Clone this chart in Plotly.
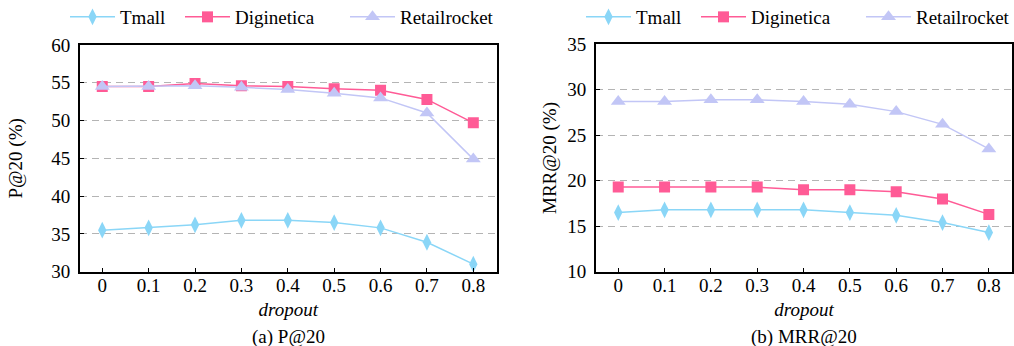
import plotly.graph_objects as go

dropout = [0, 0.1, 0.2, 0.3, 0.4, 0.5, 0.6, 0.7, 0.8]
tick_labels = ["0", "0.1", "0.2", "0.3", "0.4", "0.5", "0.6", "0.7", "0.8"]

p20_tmall = [35.5, 35.8, 36.2, 36.8, 36.8, 36.5, 35.8, 33.9, 31.0]
p20_diginetica = [54.5, 54.5, 54.9, 54.6, 54.5, 54.2, 54.0, 52.8, 49.7]
p20_retailrocket = [54.5, 54.5, 54.6, 54.4, 54.1, 53.6, 53.0, 51.0, 44.9]

mrr_tmall = [16.5, 16.8, 16.8, 16.8, 16.8, 16.5, 16.2, 15.4, 14.3]
mrr_diginetica = [19.3, 19.3, 19.3, 19.3, 19.0, 19.0, 18.8, 18.0, 16.3]
mrr_retailrocket = [28.7, 28.7, 28.9, 28.9, 28.7, 28.4, 27.6, 26.2, 23.5]

series_names = ["Tmall", "Diginetica", "Retailrocket"]
colors = ["#8ad6f7", "#ff5b96", "#c2c6f6"]
symbols = ["diamond-tall", "square", "triangle-up"]
sizes = [12, 11, 13]

FONT = "Liberation Serif"
FS = 19

fig = go.Figure()

# one legend per entry so each entry sits where the reference places it
legend_x_px = [[65, 180, 345], [581, 696, 861]]

panels = [
    ([p20_tmall, p20_diginetica, p20_retailrocket], "x", "y"),
    ([mrr_tmall, mrr_diginetica, mrr_retailrocket], "x2", "y2"),
]
legend_layouts = {}
k = 0
for pi, (data, xa, ya) in enumerate(panels):
    for si, (name, vals, col, sym, sz) in enumerate(zip(series_names, data, colors, symbols, sizes)):
        k += 1
        lgname = "legend" if k == 1 else f"legend{k}"
        fig.add_trace(go.Scatter(
            x=dropout, y=vals, name=name, mode="lines+markers",
            line=dict(color=col, width=1.5),
            marker=dict(symbol=sym, size=sz, color=col),
            xaxis=xa, yaxis=ya, legend=lgname, showlegend=True,
        ))
        legend_layouts[lgname] = dict(
            orientation="h", x=legend_x_px[pi][si]/1014, y=1-17/346,
            xanchor="left", yanchor="middle",
            font=dict(family=FONT, size=FS, color="black"),
            bgcolor="rgba(0,0,0,0)", itemwidth=45, tracegroupgap=0, visible=True,
        )

axis_common = dict(
    showline=True, mirror=True, linecolor="black", linewidth=2,
    ticks="inside", tickcolor="black", tickwidth=1,
    tickfont=dict(family=FONT, size=FS, color="black"),
    zeroline=False, automargin=False,
)
xcommon = dict(axis_common, range=[-0.048, 0.85], tickvals=dropout, ticktext=tick_labels,
               ticklen=4, showgrid=False, ticklabelstandoff=-5,
               title=dict(text="<i>dropout</i>", font=dict(family=FONT, size=FS, color="black"), standoff=8))
ycommon = dict(axis_common, ticklen=4, showgrid=True, gridcolor="#b4b4b4", gridwidth=1.3,
               griddash="7px,5px", ticklabelstandoff=4)

fig.update_layout(
    width=1014, height=346,
    margin=dict(l=0, r=0, t=0, b=0, autoexpand=False),
    paper_bgcolor="white", plot_bgcolor="white",
    showlegend=True,
    font=dict(family=FONT, size=FS, color="black"),
    xaxis=dict(xcommon, domain=[80/1014, 496.5/1014], anchor="y"),
    yaxis=dict(ycommon, domain=[1-271.7/346, 1-45/346], anchor="x", range=[30, 60],
               tickvals=[30, 35, 40, 45, 50, 55, 60],
               title=dict(text="P@20 (%)", font=dict(family=FONT, size=FS), standoff=24)),
    xaxis2=dict(xcommon, domain=[596/1014, 1012/1014], anchor="y2"),
    yaxis2=dict(ycommon, domain=[1-271.7/346, 1-44.3/346], anchor="x2", range=[10, 35],
                tickvals=[10, 15, 20, 25, 30, 35],
                title=dict(text="MRR@20 (%)", font=dict(family=FONT, size=FS), standoff=6)),
    annotations=[
        dict(text="(a) P@20", x=(80+496.5)/2/1014, y=1-337/346, xref="paper", yref="paper",
             showarrow=False, font=dict(family=FONT, size=FS, color="black"),
             xanchor="center", yanchor="middle"),
        dict(text="(b) MRR@20", x=(596+1012)/2/1014, y=1-337/346, xref="paper", yref="paper",
             showarrow=False, font=dict(family=FONT, size=FS, color="black"),
             xanchor="center", yanchor="middle"),
    ],
)
fig.update_layout(**legend_layouts)

fig.write_html("out.html")
